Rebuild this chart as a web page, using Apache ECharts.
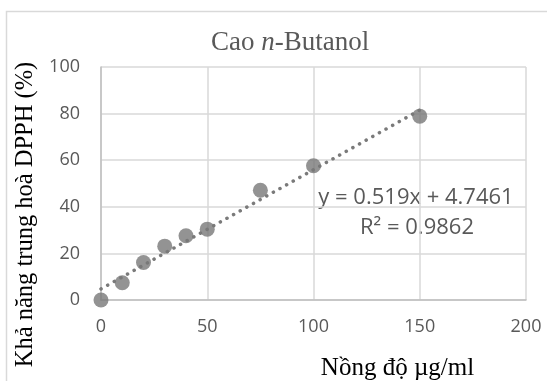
<!DOCTYPE html>
<html>
<head>
<meta charset="utf-8">
<script src="https://cdn.jsdelivr.net/npm/echarts@6/dist/echarts.min.js"></script>
<style>
  html, body { margin: 0; padding: 0; background: #fff; }
  #chart { width: 547px; height: 381px; }
</style>
</head>
<body>
<div id="chart"></div>
<script>
  // nồng độ (µg/ml) và khả năng trung hoà DPPH (%)
  const concentrations = [0, 10, 20, 30, 40, 50, 75, 100, 150]
  const inhibition = [0, 7.4, 16.1, 23.1, 27.6, 30.4, 47.1, 57.6, 78.9]
  // đường xu hướng tuyến tính, hai đầu mút
  const trendX = [0, 150]
  const trendY = [4.75, 81.5]
  const xTicks = [0, 50, 100, 150, 200]
  const yTicks = [0, 20, 40, 60, 80, 100]
  const equationLines = ['y = 0.519x + 4.7461', 'R² = 0.9862']

  const grey = '#595959'
  const chart = echarts.init(document.getElementById('chart'))

  const option = {
    animation: false,
    title: {
      text: '{a|Cao }{b|n}{a|-Butanol}',
      left: 211,
      top: 29,
      padding: 0,
      textStyle: {
        fontWeight: 'normal',
        rich: {
          a: { fontFamily: 'Liberation Serif', fontSize: 27, color: grey, fontWeight: 'normal' },
          b: { fontFamily: 'Liberation Serif', fontSize: 27, color: grey, fontWeight: 'normal', fontStyle: 'italic' }
        }
      }
    },
    grid: { left: 101, right: 21, top: 67, bottom: 81, containLabel: false, outerBoundsMode: 'none' },
    xAxis: {
      type: 'value',
      min: xTicks[0],
      max: xTicks[xTicks.length - 1],
      interval: xTicks[1] - xTicks[0],
      name: 'Nồng độ µg/ml',
      nameLocation: 'middle',
      nameGap: 56,
      nameTextStyle: {
        fontFamily: 'Liberation Serif', fontSize: 25, color: '#000',
        padding: [0, 0, 0, 168]
      },
      axisLine: { show: true, lineStyle: { color: '#bfbfbf', width: 1.5 } },
      axisTick: { show: false },
      splitLine: { show: true, lineStyle: { color: '#d9d9d9', width: 1.5 } },
      axisLabel: { color: grey, fontFamily: 'Open Sans', fontSize: 18, margin: 18 }
    },
    yAxis: {
      type: 'value',
      min: yTicks[0],
      max: yTicks[yTicks.length - 1],
      interval: yTicks[1] - yTicks[0],
      name: 'Khả năng trung hoà DPPH (%)',
      nameLocation: 'middle',
      nameGap: 52,
      nameTextStyle: {
        fontFamily: 'Liberation Serif', fontSize: 24.5, color: '#000',
        padding: [0, 62, 0, 0]
      },
      axisLine: { show: true, lineStyle: { color: '#bfbfbf', width: 1.5 } },
      axisTick: { show: false },
      splitLine: { show: true, lineStyle: { color: '#d9d9d9', width: 1.5 } },
      axisLabel: { color: grey, fontFamily: 'Open Sans', fontSize: 18, margin: 21 }
    },
    series: [
      {
        type: 'line',
        data: trendX.map((x, i) => [x, trendY[i]]),
        showSymbol: false,
        symbol: 'none',
        lineStyle: { color: '#7a7a7a', width: 3.5, type: [0.1, 7.5], cap: 'round' },
        z: 1
      },
      {
        type: 'scatter',
        data: concentrations.map((x, i) => [x, inhibition[i]]),
        symbolSize: 15,
        itemStyle: { color: '#787878' },
        z: 2
      }
    ],
    graphic: [
      {
        type: 'rect',
        left: 4, top: 9,
        shape: { width: 600, height: 420 },
        style: { fill: 'none', stroke: '#d9d9d9', lineWidth: 1.5 },
        silent: true
      },
      {
        type: 'text',
        x: 416, y: 198,
        style: {
          text: equationLines[0], fill: grey, font: '22px "Open Sans"',
          textAlign: 'center', textVerticalAlign: 'middle'
        }
      },
      {
        type: 'text',
        x: 417, y: 228,
        style: {
          text: equationLines[1], fill: grey, font: '22px "Open Sans"',
          textAlign: 'center', textVerticalAlign: 'middle'
        }
      }
    ]
  }

  chart.setOption(option)
</script>
</body>
</html>
